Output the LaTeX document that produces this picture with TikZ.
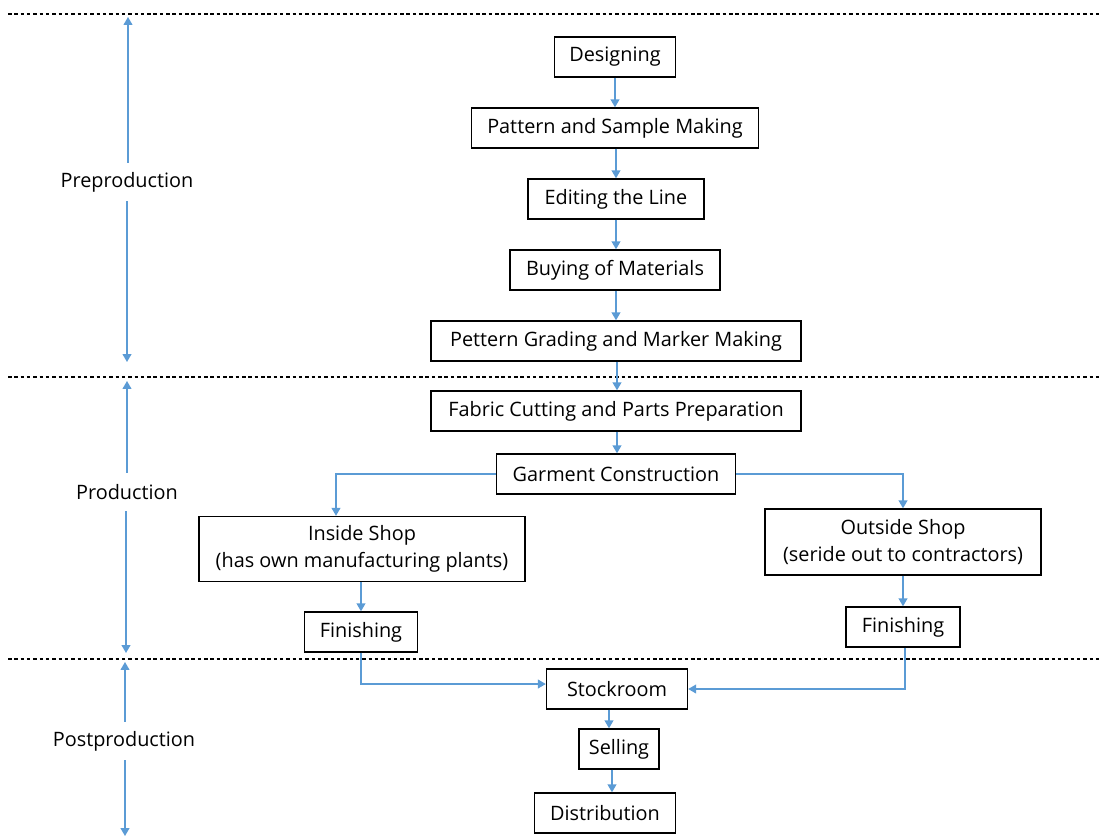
\documentclass[tikz,border=0pt]{standalone}
\usepackage{fontspec}
\setmainfont{Open Sans}
\usepackage{xcolor}
\usetikzlibrary{positioning}
\usetikzlibrary{arrows.meta}

\definecolor{flowblue}{RGB}{91,155,213}

\begin{document}
\begin{tikzpicture}[x=0.02cm, y=-0.02cm,
	box/.style = { draw, black, line width = 0.8pt, text = black, font = \fontsize{11.3}{15}\selectfont, minimum height = 0.8cm, inner sep = 2pt, align = center },
	flow/.style = { draw = flowblue, line width = 0.8pt, -{Triangle[width=5pt, length=4.5pt]} },
	span/.style = { draw = flowblue, line width = 0.8pt, -{Triangle[width=5pt, length=4.5pt]} },
	phase/.style = { font = \fontsize{11.3}{15}\selectfont, inner sep = 1pt, minimum height = 0.75cm },
	divider/.style = { black, line width = 0.6pt, dash pattern = on 2pt off 1.6pt },
	]
	\useasboundingbox (0,0) rectangle (1102,839);

	% phase dividers
	\draw[divider] (8,14) -- (1100,14);
	\draw[divider] (8,377) -- (1100,377);
	\draw[divider] (8,659) -- (1100,659);

	% phase labels with their spans
	\node[phase] (Preproduction) at (127,182) {Preproduction};
	\node[phase] (Production) at (127,492) {Production};
	\node[phase] (Postproduction) at (124,741) {Postproduction};
	\coordinate (PreTop) at (128,17);
	\coordinate (PreBottom) at (127,362);
	\coordinate (ProTop) at (127,381);
	\coordinate (ProBottom) at (126,653);
	\coordinate (PostTop) at (125,662);
	\coordinate (PostBottom) at (125,836);
	\draw[span] (Preproduction.north -| PreTop) -- (PreTop);
	\draw[span] (Preproduction.south -| PreBottom) -- (PreBottom);
	\draw[span] (Production.north -| ProTop) -- (ProTop);
	\draw[span] (Production.south -| ProBottom) -- (ProBottom);
	\draw[span] (Postproduction.north -| PostTop) -- (PostTop);
	\draw[span] (Postproduction.south -| PostBottom) -- (PostBottom);

	% preproduction
	\node[box, minimum width = 2.42cm] (Designing) at (615,57) {Designing};
	\node[box, minimum width = 5.74cm] (PatternMaking) at (615,128) {Pattern and Sample Making};
	\node[box, minimum width = 3.52cm] (EditingLine) at (616,199) {Editing the Line};
	\node[box, minimum width = 4.2cm] (BuyingMaterials) at (615,270) {Buying of Materials};
	\node[box, minimum width = 7.4cm] (PatternGrading) at (616,341) {Pettern Grading and Marker Making};

	% production
	\node[box, minimum width = 7.4cm] (FabricCutting) at (616,411) {Fabric Cutting and Parts Preparation};
	\node[box, minimum width = 4.78cm] (GarmentConstruction) at (616,474) {Garment Construction};
	\node[box, minimum width = 6.52cm, minimum height = 1.3cm] (InsideShop) at (362,549) {Inside Shop\\(has own manufacturing plants)};
	\node[box, minimum width = 5.52cm, minimum height = 1.32cm] (OutsideShop) at (903,542) {Outside Shop\\(seride out to contractors)};
	\node[box, minimum width = 2.26cm] (FinishingIn) at (361,632) {Finishing};
	\node[box, minimum width = 2.28cm] (FinishingOut) at (903,627) {Finishing};

	% postproduction
	\node[box, minimum width = 2.82cm] (Stockroom) at (617,689) {Stockroom};
	\node[box, minimum width = 1.6cm] (Selling) at (619,749) {Selling};
	\node[box, minimum width = 2.82cm] (Distribution) at (605,813) {Distribution};

	% main flow
	\draw[flow] (Designing.south -| 615,0) -- (PatternMaking.north -| 615,0);
	\draw[flow] (PatternMaking.south -| 616,0) -- (EditingLine.north -| 616,0);
	\draw[flow] (EditingLine.south -| 616,0) -- (BuyingMaterials.north -| 616,0);
	\draw[flow] (BuyingMaterials.south -| 616,0) -- (PatternGrading.north -| 616,0);
	\draw[flow] (PatternGrading.south -| 617,0) -- (FabricCutting.north -| 617,0);
	\draw[flow] (FabricCutting.south -| 617,0) -- (GarmentConstruction.north -| 617,0);
	\draw[flow] (GarmentConstruction.west) -| (InsideShop.north -| 336,0);
	\draw[flow] (GarmentConstruction.east) -| (OutsideShop.north);
	\draw[flow] (InsideShop.south -| FinishingIn) -- (FinishingIn.north);
	\draw[flow] (OutsideShop.south) -- (FinishingOut.north);
	\draw[flow] (FinishingIn.south) |- ([yshift=0.1cm]Stockroom.west);
	\draw[flow] (FinishingOut.south -| 905,0) |- (Stockroom.east);
	\draw[flow] (Stockroom.south -| 609,0) -- (Selling.north -| 609,0);
	\draw[flow] (Selling.south -| 612,0) -- (Distribution.north -| 612,0);
\end{tikzpicture}
\end{document}
